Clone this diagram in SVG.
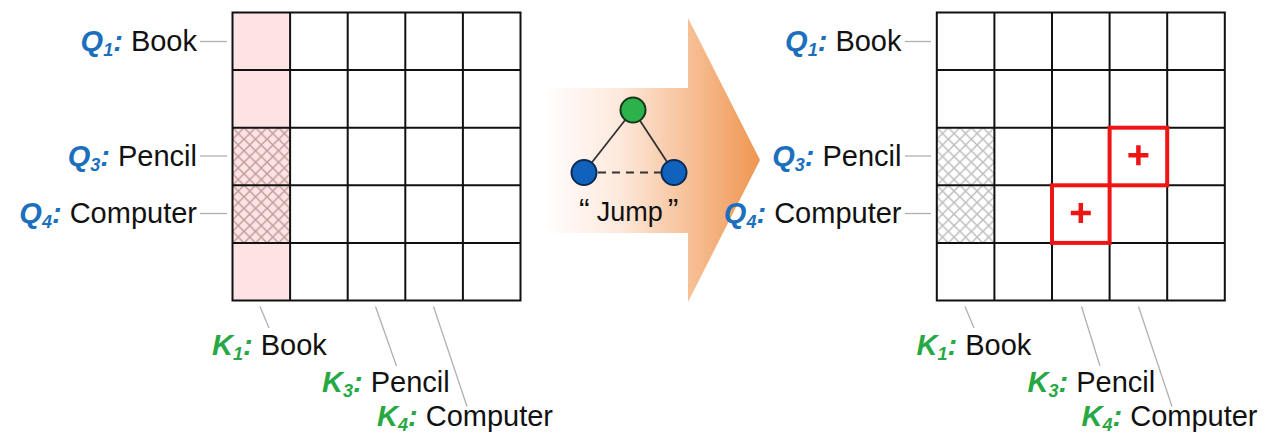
<svg xmlns="http://www.w3.org/2000/svg" width="1266" height="434" viewBox="0 0 1266 434">
  <style>
    text { font-family: "Liberation Sans", Arial, sans-serif; font-size: 29px; fill: #111; }
    .q { fill: #1b6fbd; font-weight: bold; font-style: italic; }
    .k { fill: #27a844; font-weight: bold; font-style: italic; }
    .sub { font-size: 18px; }
    .grid { fill: none; stroke: #111; stroke-width: 2; }
    .lead { stroke: #b0b0b0; stroke-width: 1.3; fill: none; }
    .hit { fill: none; stroke: #ee1515; stroke-width: 4; }
    .plus { stroke: #ee1515; stroke-width: 4.5; fill: none; }
    .edge { stroke: #333; stroke-width: 1.8; fill: none; }
  </style>
  <defs>
    <pattern id="hatchPink" patternUnits="userSpaceOnUse" width="11.52" height="11.52">
      <rect width="11.52" height="11.52" fill="#fde3e3"/>
      <path d="M0,0 L11.52,11.52 M11.52,0 L0,11.52" stroke="#c29c9c" stroke-width="1.5"/>
    </pattern>
    <pattern id="hatchGray" patternUnits="userSpaceOnUse" width="11.52" height="11.52">
      <rect width="11.52" height="11.52" fill="#ffffff"/>
      <path d="M0,0 L11.52,11.52 M11.52,0 L0,11.52" stroke="#bdbdbd" stroke-width="1.5"/>
    </pattern>
    <linearGradient id="arrowFill" gradientUnits="userSpaceOnUse" x1="543" y1="0" x2="760" y2="0">
      <stop offset="0" stop-color="#ffffff"/>
      <stop offset="0.35" stop-color="#fde9dc"/>
      <stop offset="0.65" stop-color="#f7c39c"/>
      <stop offset="1" stop-color="#ef9650"/>
    </linearGradient>
    <!-- 5x5 grid lines, cell 57.6 -->
    <path id="gridLines" d="M57.6,0 V288 M115.2,0 V288 M172.8,0 V288 M230.4,0 V288 M0,57.6 H288 M0,115.2 H288 M0,172.8 H288 M0,230.4 H288 M0,0 H288 V288 H0 Z"/>
  </defs>

  <!-- left attention matrix -->
  <g id="matrix-left" transform="translate(232.5,12.5)">
    <rect x="0" y="0" width="57.6" height="288" fill="#fde3e3"/>
    <rect x="0" y="115.2" width="57.6" height="115.2" fill="url(#hatchPink)"/>
    <use href="#gridLines" class="grid"/>
  </g>

  <!-- right attention matrix -->
  <g id="matrix-right" transform="translate(936.8,12.5)">
    <rect x="0" y="115.2" width="57.6" height="115.2" fill="url(#hatchGray)"/>
    <use href="#gridLines" class="grid"/>
    <rect class="hit" x="172.8" y="115.2" width="57.6" height="57.6"/>
    <rect class="hit" x="115.2" y="172.8" width="57.6" height="57.6"/>
    <path class="plus" d="M191.6,142.8 H211.6 M201.6,132.8 V152.8"/>
    <path class="plus" d="M134,200.4 H154 M144,190.4 V210.4"/>
  </g>

  <!-- transition arrow with graph -->
  <g id="jump-arrow">
    <path d="M543,88 H688 V18 L760,160 L688,302 V233 H543 Z" fill="url(#arrowFill)"/>
    <line class="edge" x1="633" y1="110" x2="584" y2="172.5"/>
    <line class="edge" x1="633" y1="110" x2="674" y2="172.5"/>
    <line class="edge" x1="584" y1="172.5" x2="674" y2="172.5" stroke-dasharray="8 6" stroke-width="2"/>
    <circle cx="633" cy="110" r="12.5" fill="#2cb24a" stroke="#17361c" stroke-width="2"/>
    <circle cx="584" cy="172.5" r="12.5" fill="#1162bd" stroke="#0c2a55" stroke-width="2"/>
    <circle cx="674" cy="172.5" r="12.5" fill="#1162bd" stroke="#0c2a55" stroke-width="2"/>
    <text x="579" y="221" style="font-size:27px"><tspan style="font-size:32px">“</tspan><tspan dx="7">Jump</tspan><tspan dx="5" style="font-size:32px">”</tspan></text>
  </g>

  <!-- label leader lines -->
  <g id="connectors">
    <line class="lead" x1="200" y1="41.5" x2="227" y2="41.5"/>
    <line class="lead" x1="200" y1="156" x2="227" y2="156"/>
    <line class="lead" x1="200" y1="213.5" x2="227" y2="213.5"/>
    <line class="lead" x1="260" y1="306.5" x2="269" y2="328"/>
    <line class="lead" x1="375.5" y1="306.5" x2="396.5" y2="366"/>
    <line class="lead" x1="433.5" y1="306.5" x2="467" y2="406.5"/>
    <line class="lead" x1="905" y1="41.5" x2="931" y2="41.5"/>
    <line class="lead" x1="905" y1="156" x2="931" y2="156"/>
    <line class="lead" x1="905" y1="213.5" x2="931" y2="213.5"/>
    <line class="lead" x1="965" y1="306.5" x2="974" y2="328"/>
    <line class="lead" x1="1081.5" y1="306.5" x2="1100" y2="366"/>
    <line class="lead" x1="1138.5" y1="306.5" x2="1172" y2="406.5"/>
  </g>

  <!-- query labels, left -->
  <g id="labels-q-left" text-anchor="end">
    <text x="197" y="50.5"><tspan class="q">Q</tspan><tspan class="q sub" dy="5">1</tspan><tspan class="q" dy="-5">:</tspan> Book</text>
    <text x="197" y="165.5"><tspan class="q">Q</tspan><tspan class="q sub" dy="5">3</tspan><tspan class="q" dy="-5">:</tspan> Pencil</text>
    <text x="197" y="222.5"><tspan class="q">Q</tspan><tspan class="q sub" dy="5">4</tspan><tspan class="q" dy="-5">:</tspan> Computer</text>
  </g>

  <!-- key labels, left -->
  <g id="labels-k-left">
    <text x="212" y="355"><tspan class="k">K</tspan><tspan class="k sub" dy="5">1</tspan><tspan class="k" dy="-5">:</tspan> Book</text>
    <text x="322" y="391.5"><tspan class="k">K</tspan><tspan class="k sub" dy="5">3</tspan><tspan class="k" dy="-5">:</tspan> Pencil</text>
    <text x="377" y="426"><tspan class="k">K</tspan><tspan class="k sub" dy="5">4</tspan><tspan class="k" dy="-5">:</tspan> Computer</text>
  </g>

  <!-- query labels, right -->
  <g id="labels-q-right" text-anchor="end">
    <text x="901.5" y="50.5"><tspan class="q">Q</tspan><tspan class="q sub" dy="5">1</tspan><tspan class="q" dy="-5">:</tspan> Book</text>
    <text x="901.5" y="165.5"><tspan class="q">Q</tspan><tspan class="q sub" dy="5">3</tspan><tspan class="q" dy="-5">:</tspan> Pencil</text>
    <text x="901.5" y="222.5"><tspan class="q">Q</tspan><tspan class="q sub" dy="5">4</tspan><tspan class="q" dy="-5">:</tspan> Computer</text>
  </g>

  <!-- key labels, right -->
  <g id="labels-k-right">
    <text x="916.5" y="355"><tspan class="k">K</tspan><tspan class="k sub" dy="5">1</tspan><tspan class="k" dy="-5">:</tspan> Book</text>
    <text x="1027.5" y="391.5"><tspan class="k">K</tspan><tspan class="k sub" dy="5">3</tspan><tspan class="k" dy="-5">:</tspan> Pencil</text>
    <text x="1081.5" y="426"><tspan class="k">K</tspan><tspan class="k sub" dy="5">4</tspan><tspan class="k" dy="-5">:</tspan> Computer</text>
  </g>
</svg>
